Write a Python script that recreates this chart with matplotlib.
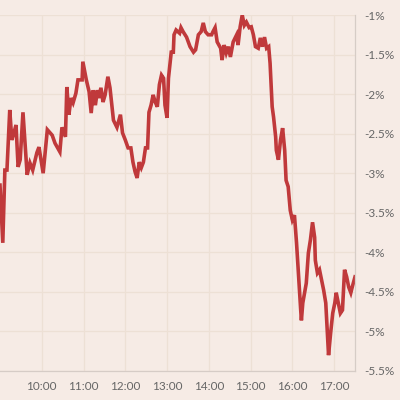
import matplotlib.pyplot as plt

# minutes after 9:00 and change in percent
minutes = [0, 4, 7, 10, 14, 17, 20, 23, 26, 29, 33, 39, 43, 47, 53, 56, 62, 68, 75, 79,
           86, 89, 94, 96, 99, 102, 105, 109, 112, 118, 119, 124, 128, 131, 134, 137, 140, 142, 145, 148,
           151, 155, 158, 163, 168, 173, 176, 180, 184, 188, 191, 194, 197, 200, 203, 206, 209, 212, 214, 217,
           220, 223, 226, 229, 232, 235, 237, 240, 242, 246, 249, 250, 253, 258, 260, 263, 268, 273, 278, 281,
           285, 289, 292, 295, 299, 304, 306, 309, 312, 317, 319, 322, 325, 328, 331, 335, 340, 342, 345, 348,
           351, 354, 358, 361, 364, 367, 371, 374, 377, 380, 383, 386, 388, 391, 393, 396, 397, 400, 403, 406,
           409, 411, 414, 417, 420, 423, 426, 429, 432, 433, 435, 437, 440, 443, 446, 449, 452, 453, 456, 459,
           462, 465, 468, 470, 472, 475, 478, 481, 483, 486, 489, 492, 495, 498, 501, 504, 506, 510]
change = [-3.15, -3.88, -2.96, -2.96, -2.20, -2.58, -2.49, -2.39, -2.92, -2.83, -2.23, -3.02, -2.87, -2.96, -2.74, -2.67, -3.00, -2.45, -2.52, -2.62,
          -2.73, -2.42, -2.54, -1.91, -2.26, -2.05, -2.11, -1.99, -1.82, -1.82, -1.59, -1.82, -1.97, -2.24, -1.95, -2.14, -1.95, -2.05, -1.92, -2.10,
          -2.01, -1.78, -1.92, -2.33, -2.42, -2.26, -2.49, -2.58, -2.68, -2.68, -2.86, -2.98, -3.06, -2.86, -2.93, -2.86, -2.68, -2.68, -2.23, -2.14,
          -2.01, -2.10, -2.16, -1.88, -1.76, -1.80, -2.14, -2.30, -1.80, -1.47, -1.47, -1.25, -1.19, -1.23, -1.16, -1.21, -1.28, -1.40, -1.47, -1.44,
          -1.25, -1.21, -1.10, -1.21, -1.25, -1.25, -1.21, -1.16, -1.34, -1.42, -1.57, -1.38, -1.48, -1.40, -1.53, -1.34, -1.25, -1.38, -1.15, -1.00,
          -1.13, -1.09, -1.16, -1.15, -1.25, -1.40, -1.42, -1.29, -1.40, -1.28, -1.42, -1.40, -1.61, -2.16, -2.29, -2.54, -2.71, -2.83, -2.58, -2.43,
          -2.71, -3.09, -3.17, -3.47, -3.59, -3.53, -3.88, -4.31, -4.73, -4.86, -4.64, -4.54, -4.39, -4.01, -3.84, -3.62, -3.81, -4.10, -4.26, -4.22,
          -4.35, -4.48, -4.64, -4.98, -5.30, -5.02, -4.77, -4.64, -4.51, -4.64, -4.77, -4.73, -4.22, -4.31, -4.44, -4.51, -4.44, -4.31]

hour_ticks = [60, 120, 180, 240, 300, 360, 420, 480]
hour_labels = ["10:00", "11:00", "12:00", "13:00", "14:00", "15:00", "16:00", "17:00"]
pct_ticks = [-1, -1.5, -2, -2.5, -3, -3.5, -4, -4.5, -5, -5.5]
pct_labels = ["-1%", "-1.5%", "-2%", "-2.5%", "-3%", "-3.5%", "-4%", "-4.5%", "-5%", "-5.5%"]

bg = "#f6ebe5"
fig = plt.figure(figsize=(4, 4), dpi=100, facecolor=bg)
ax = fig.add_axes([0, 0.0725, 0.8875, 0.89], facecolor=bg)

ax.plot(minutes, change, color="#c0393b", linewidth=2.6, solid_joinstyle="miter")

ax.set_xlim(0, 510)
ax.set_ylim(-5.5, -1)
ax.set_xticks(hour_ticks)
ax.set_xticklabels(hour_labels)
ax.set_yticks(pct_ticks)
ax.set_yticklabels(pct_labels)
ax.yaxis.tick_right()
ax.tick_params(length=0, colors="#666666", labelsize=8.5, pad=7)
for lab in ax.get_xticklabels() + ax.get_yticklabels():
    lab.set_fontfamily("Lato")
ax.grid(True, color="#ede0d5", linewidth=0.9)
ax.set_axisbelow(True)

for side in ["top", "left"]:
    ax.spines[side].set_visible(False)
for side in ["right", "bottom"]:
    ax.spines[side].set_color("#d6ccc6")
    ax.spines[side].set_linewidth(0.9)

fig.savefig("out.png", dpi=100, facecolor=bg)
